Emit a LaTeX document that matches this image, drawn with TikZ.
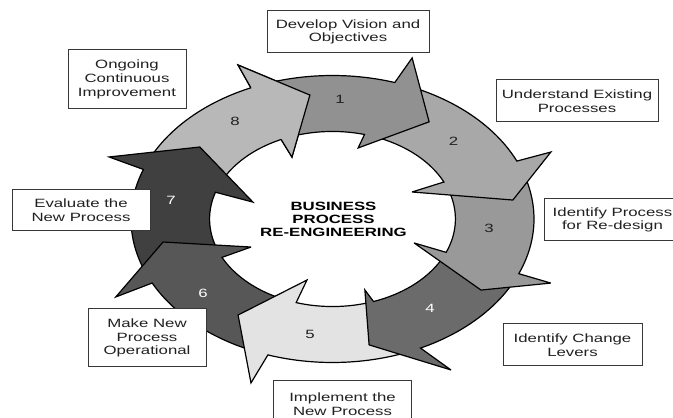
\documentclass[tikz,border=0pt]{standalone}
\usepackage{fontspec}
\newfontfamily\wide[FakeStretch=1.4]{Liberation Sans}
\definecolor{c1}{gray}{0.57}
\definecolor{c2}{gray}{0.66}
\definecolor{c3}{gray}{0.60}
\definecolor{c4}{gray}{0.42}
\definecolor{c5}{gray}{0.89}
\definecolor{c6}{gray}{0.34}
\definecolor{c7}{gray}{0.25}
\definecolor{c8}{gray}{0.72}
\definecolor{boxc}{gray}{0.22}
\definecolor{textc}{gray}{0.13}
% #1 colour, #2 outer start, #3 inner start, #4 outer end, #5 inner end, #6 outer barb, #7 tip, #8 inner barb
\newcommand\ringarrow[8]{%
  \filldraw[arrowsty, fill=#1] plot[domain=#2:#4, samples=40] (\x:1) -- (#6) -- (#7) -- (#8) -- (#5:0.61)
    -- plot[domain=#5:#3, samples=40] (\x:0.61) -- cycle;}
\begin{document}
\begin{tikzpicture}[x=1pt, y=1pt,
  arrowsty/.style={draw=black, line width=1.2pt, line join=miter, miter limit=5},
  labelbox/.style={draw=boxc, fill=white, line width=1pt, inner sep=0pt, align=center,
    text=textc, font=\wide\fontsize{12}{13.7}\selectfont},
  num/.style={font=\wide\fontsize{12}{13}\selectfont, text=textc, inner sep=1pt},
  numw/.style={num, text=white}]
\useasboundingbox (0,0) rectangle (673,418);
\fill[white] (0,0) rectangle (673,418);
\begin{scope}[shift={(332.5pt,199pt)}, x=201.5pt, y=143.5pt]
  \ringarrow{c8}{-201.7}{-199.3}{-246.1}{-245.3}{-246.4:1.171}{-262.6:0.871}{-245:0.476}
  \ringarrow{c7}{-155.0}{-155.5}{-200.2}{-197.8}{-201.3:1.19}{-217.3:0.828}{-196.6:0.412}
  \ringarrow{c6}{-110.2}{-108.7}{-153.5}{-154.0}{-153.2:1.205}{-169.2:0.856}{-154.2:0.449}
  \ringarrow{c5}{-65.6}{-72.0}{-108.7}{-107.2}{-109.5:1.212}{-125:0.817}{-106.6:0.444}
  \ringarrow{c4}{-23.9}{-23.9}{-64.1}{-70.5}{-60.8:1.205}{-78.3:0.896}{-72:0.52}
  \ringarrow{c3}{22.3}{23.5}{-22.4}{-22.4}{-22.4:1.172}{-33.9:0.888}{-22.4:0.438}
  \ringarrow{c2}{70.5}{73.4}{23.8}{25.0}{23.3:1.18}{8.4:0.905}{25.5:0.437}
  \ringarrow{c1}{112.4}{113.2}{72.0}{74.9}{70.6:1.19}{54.7:0.83}{75.6:0.511}
  % head of arrow 8 over the start of arrow 1
  \fill[c8] (-246.4:1.171) -- (-262.6:0.871) -- (-245:0.476) -- cycle;
  \draw[arrowsty] (-246.1:1) -- (-246.4:1.171) -- (-262.6:0.871) -- (-245:0.476) -- (-245.3:0.61);
\end{scope}
% step numbers
\node[num]  (n1) at (340, 319) {1};
\node[num]  (n2) at (453.6, 276.3) {2};
\node[num]  (n3) at (489, 190) {3};
\node[numw] (n4) at (430, 110) {4};
\node[num]  (n5) at (310, 84) {5};
\node[numw] (n6) at (203, 125) {6};
\node[numw] (n7) at (171, 217.3) {7};
\node[num]  (n8) at (235, 296.3) {8};
% centre title
\node[align=center, text=black, inner sep=0pt, font=\wide\bfseries\fontsize{12}{13}\selectfont]
  (title) at (333.5, 199) {BUSINESS\\PROCESS\\RE-ENGINEERING};
% label boxes
\node[labelbox, minimum width=162pt, minimum height=42pt] (bA) at (348, 386) {Develop Vision and\\Objectives};
\node[labelbox, minimum width=162pt, minimum height=42pt] (bB) at (577, 317) {Understand Existing\\Processes};
\node[labelbox, minimum width=137pt, minimum height=42pt] (bC) at (612.5, 198) {Identify Process\\for Re-design};
\node[labelbox, minimum width=139pt, minimum height=42pt] (bD) at (572.5, 73) {Identify Change\\Levers};
\node[labelbox, minimum width=138pt, minimum height=46pt] (bE) at (342.5, 14) {Implement the\\New Process};
\node[labelbox, minimum width=118pt, minimum height=58pt] (bF) at (147, 80) {Make New\\Process\\Operational};
\node[labelbox, minimum width=138pt, minimum height=41pt] (bG) at (81, 207.5) {Evaluate the\\New Process};
\node[labelbox, minimum width=118pt, minimum height=59pt] (bH) at (127, 338.5) {Ongoing\\Continuous\\Improvement};
\end{tikzpicture}
\end{document}
